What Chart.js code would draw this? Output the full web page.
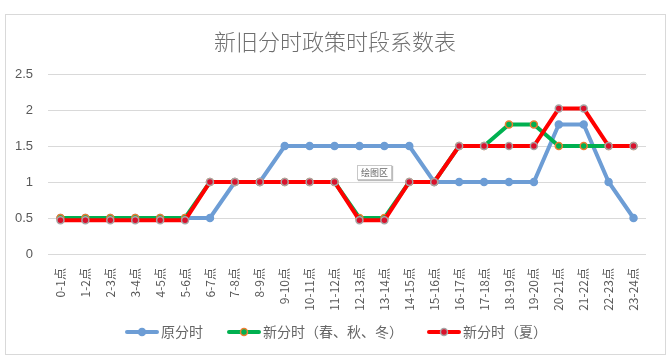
<!DOCTYPE html>
<html>
<head>
<meta charset="utf-8">
<script src="https://cdn.jsdelivr.net/npm/chart.js@4/dist/chart.umd.min.js"></script>
<style>
  html, body { margin: 0; padding: 0; background: #fff; }
  #wrap { position: relative; width: 669px; height: 363px; }
  #frame { position: absolute; left: 5px; top: 14px; width: 659px; height: 339px; border: 1px solid #d9d9d9; }
  #c { position: absolute; left: 0; top: 0; }
  #tip { position: absolute; left: 357px; top: 165px; font: 9px "Noto Sans CJK SC", sans-serif; color: #666;
         background: #fff; border: 1px solid #c8c8c8; padding: 0 3px; box-shadow: 1px 1px 1px #bbb; line-height: 13px; }
</style>
</head>
<body>
<div id="wrap">
  <div id="frame"></div>
  <canvas id="c" width="669" height="363"></canvas>
  <div id="tip">绘图区</div>
</div>
<script>
// data
const hours = ["0-1点","1-2点","2-3点","3-4点","4-5点","5-6点","6-7点","7-8点","8-9点","9-10点","10-11点","11-12点",
  "12-13点","13-14点","14-15点","15-16点","16-17点","17-18点","18-19点","19-20点","20-21点","21-22点","22-23点","23-24点"];
const oldRate = [0.5,0.5,0.5,0.5,0.5,0.5,0.5,1,1,1.5,1.5,1.5,1.5,1.5,1.5,1,1,1,1,1,1.8,1.8,1,0.5];
const newRate = [0.5,0.5,0.5,0.5,0.5,0.5,1,1,1,1,1,1,0.5,0.5,1,1,1.5,1.5,1.8,1.8,1.5,1.5,1.5,1.5];
const summerRate = [0.47,0.47,0.47,0.47,0.47,0.47,1,1,1,1,1,1,0.47,0.47,1,1,1.5,1.5,1.5,1.5,2.02,2.02,1.5,1.5];
const yTicks = [0, 0.5, 1, 1.5, 2, 2.5];
const seriesNames = ["原分时", "新分时（春、秋、冬）", "新分时（夏）"];
const chartTitle = "新旧分时政策时段系数表";

const FONT = '"Noto Sans CJK SC", "Liberation Sans", sans-serif';
const GRAY = "#595959";

// title + legend drawn by hand (legend needs line + dot)
const decor = {
  id: "decor",
  afterDraw(chart) {
    const ctx = chart.ctx;
    ctx.save();
    ctx.fillStyle = "#6f6f6f";
    ctx.font = "300 22px " + FONT;
    ctx.textAlign = "center";
    ctx.textBaseline = "middle";
    ctx.fillText(chartTitle, 335, 42);

    ctx.font = "14px " + FONT;
    ctx.textAlign = "left";
    const y = 332;
    const gap = 24, lineW = 34;
    const items = chart.data.datasets.map(ds => ({
      ds, w: lineW + 2 + ctx.measureText(ds.label).width
    }));
    let total = items.reduce((s, it) => s + it.w, 0) + gap * (items.length - 1);
    let x = 336 - total / 2;
    items.forEach(it => {
      const ds = it.ds;
      ctx.strokeStyle = ds.borderColor;
      ctx.lineWidth = 4;
      ctx.lineCap = "round";
      ctx.beginPath();
      ctx.moveTo(x + 2, y);
      ctx.lineTo(x + lineW - 2, y);
      ctx.stroke();
      ctx.beginPath();
      ctx.arc(x + lineW / 2, y, 3.5, 0, Math.PI * 2);
      ctx.fillStyle = ds.pointBackgroundColor;
      ctx.fill();
      ctx.lineWidth = 1.5;
      ctx.strokeStyle = ds.pointBorderColor;
      ctx.stroke();
      ctx.fillStyle = "#666";
      ctx.fillText(ds.label, x + lineW + 2, y);
      x += it.w + gap;
    });
    ctx.restore();
  }
};

new Chart(document.getElementById("c"), {
  type: "line",
  data: {
    labels: hours,
    datasets: [
      {
        label: seriesNames[0],
        data: oldRate,
        borderColor: "#6d9dd5",
        pointBackgroundColor: "#6d9dd5",
        pointBorderColor: "#6d9dd5",
        borderWidth: 4,
        pointRadius: 3.5,
        pointBorderWidth: 1.5,
        order: 3
      },
      {
        label: seriesNames[1],
        data: newRate,
        borderColor: "#00b050",
        pointBackgroundColor: "#00b050",
        pointBorderColor: "#ed7d31",
        borderWidth: 4,
        pointRadius: 3.5,
        pointBorderWidth: 1.5,
        order: 2
      },
      {
        label: seriesNames[2],
        data: summerRate,
        borderColor: "#ff0000",
        pointBackgroundColor: "#d9112c",
        pointBorderColor: "#a6a6a6",
        borderWidth: 4,
        pointRadius: 3.5,
        pointBorderWidth: 1.5,
        order: 1
      }
    ]
  },
  options: {
    responsive: false,
    animation: false,
    tension: 0,
    layout: { padding: { top: 74, right: 23, bottom: 39, left: 0 } },
    plugins: {
      legend: { display: false },
      title: { display: false },
      tooltip: { enabled: false }
    },
    scales: {
      x: {
        offset: true,
        grid: { display: false },
        border: { display: false },
        ticks: {
          color: GRAY,
          font: { size: 12, family: FONT },
          minRotation: 90,
          maxRotation: 90,
          padding: 6,
          autoSkip: false
        },
        afterFit(s) { s.height = 70; }
      },
      y: {
        min: 0,
        max: 2.5,
        afterBuildTicks(s) { s.ticks = yTicks.map(v => ({ value: v })); },
        grid: { color: "#d9d9d9", lineWidth: 1, drawTicks: false },
        border: { display: false },
        ticks: {
          color: GRAY,
          font: { size: 13, family: "'Liberation Sans', sans-serif" },
          padding: 15,
          callback: v => String(v)
        },
        afterFit(s) { s.width = 48; }
      }
    }
  },
  plugins: [decor]
});
</script>
</body>
</html>
